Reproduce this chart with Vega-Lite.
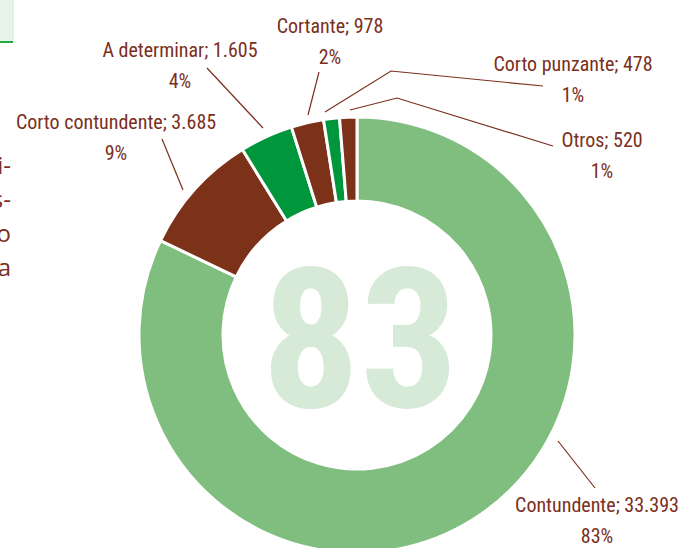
{
  "$schema": "https://vega.github.io/schema/vega-lite/v6.json",
  "width": 687,
  "height": 548,
  "autosize": {"type": "none"},
  "padding": 0,
  "background": "white",
  "config": {"view": {"stroke": null}},
  "datasets": {
    "slices": [
      {"cat": "Contundente", "value": 33393, "idx": 1},
      {"cat": "Corto contundente", "value": 3685, "idx": 2},
      {"cat": "A determinar", "value": 1605, "idx": 3},
      {"cat": "Cortante", "value": 978, "idx": 4},
      {"cat": "Corto punzante", "value": 478, "idx": 5},
      {"cat": "Otros", "value": 520, "idx": 6}
    ],
    "labels": [
      {"cat": "Contundente", "t1": "Contundente; 33.393", "t2": "83%", "x": 240, "y": -177},
      {"cat": "Corto contundente", "t1": "Corto contundente; 3.685", "t2": "9%", "x": -241, "y": 206},
      {"cat": "A determinar", "t1": "A determinar; 1.605", "t2": "4%", "x": -177, "y": 278},
      {"cat": "Cortante", "t1": "Cortante; 978", "t2": "2%", "x": -27, "y": 302},
      {"cat": "Corto punzante", "t1": "Corto punzante; 478", "t2": "1%", "x": 216, "y": 264},
      {"cat": "Otros", "t1": "Otros; 520", "t2": "1%", "x": 245, "y": 188}
    ],
    "leaders": [
      {"id": "A determinar", "seq": 1, "x": -150, "y": 267},
      {"id": "A determinar", "seq": 2, "x": -94, "y": 207},
      {"id": "Corto contundente", "seq": 1, "x": -195, "y": 196},
      {"id": "Corto contundente", "seq": 2, "x": -174, "y": 145},
      {"id": "Cortante", "seq": 1, "x": -38, "y": 263},
      {"id": "Cortante", "seq": 2, "x": -49, "y": 220},
      {"id": "Corto punzante", "seq": 1, "x": 186, "y": 249},
      {"id": "Corto punzante", "seq": 2, "x": 34, "y": 264},
      {"id": "Corto punzante", "seq": 3, "x": -32, "y": 223},
      {"id": "Otros", "seq": 1, "x": 196, "y": 189},
      {"id": "Otros", "seq": 2, "x": 40, "y": 237},
      {"id": "Otros", "seq": 3, "x": -7, "y": 225},
      {"id": "Contundente", "seq": 1, "x": 201, "y": -106},
      {"id": "Contundente", "seq": 2, "x": 238, "y": -153}
    ],
    "fragments": [
      {"t": "i-", "x": -346, "y": 161},
      {"t": "s-", "x": -346, "y": 127},
      {"t": "o", "x": -346, "y": 93},
      {"t": "a", "x": -346, "y": 59}
    ],
    "box": [
      {"x1": -360, "x2": -344, "y1": 336, "y2": 293}
    ],
    "center": [
      {"t": "83", "x": 3, "y": -72}
    ]
  },
  "layer": [
    {
      "data": {"name": "box"},
      "mark": {"type": "rect", "fill": "#e6f3e9", "stroke": "#cfe6d4", "strokeWidth": 1},
      "encoding": {
        "x": {"field": "x1", "type": "quantitative", "scale": {"domain": [-357, 330], "nice": false, "zero": false}, "axis": null},
        "x2": {"field": "x2"},
        "y": {"field": "y1", "type": "quantitative", "scale": {"domain": [-213, 335], "nice": false, "zero": false}, "axis": null},
        "y2": {"field": "y2"}
      }
    },
    {
      "data": {"name": "box"},
      "mark": {"type": "rule", "color": "#22a845", "strokeWidth": 2},
      "encoding": {
        "x": {"field": "x1", "type": "quantitative"},
        "x2": {"field": "x2"},
        "y": {"field": "y2", "type": "quantitative"}
      }
    },
    {
      "data": {"name": "slices"},
      "mark": {"type": "arc", "outerRadius": 218, "innerRadius": 134, "stroke": "white", "strokeWidth": 3},
      "encoding": {
        "theta": {"field": "value", "type": "quantitative", "stack": true},
        "order": {"field": "idx", "type": "quantitative"},
        "color": {
          "field": "cat",
          "type": "nominal",
          "scale": {
            "domain": ["Contundente", "Corto contundente", "A determinar", "Cortante", "Corto punzante", "Otros"],
            "range": ["#80be80", "#7c3119", "#00963c", "#7c3119", "#00963c", "#7c3119"]
          },
          "legend": null
        },
        "x": {"datum": 0, "type": "quantitative"},
        "y": {"datum": 0, "type": "quantitative"}
      }
    },
    {
      "data": {"name": "center"},
      "mark": {"type": "text", "font": "Roboto Condensed, DejaVu Sans Condensed, sans-serif", "fontWeight": "bold", "fontSize": 195, "color": "#d7e9d7", "align": "center", "baseline": "alphabetic"},
      "encoding": {
        "x": {"field": "x", "type": "quantitative"},
        "y": {"field": "y", "type": "quantitative"},
        "text": {"field": "t"}
      }
    },
    {
      "data": {"name": "leaders"},
      "mark": {"type": "line", "color": "#7b2f1c", "strokeWidth": 1.2},
      "encoding": {
        "x": {"field": "x", "type": "quantitative"},
        "y": {"field": "y", "type": "quantitative"},
        "detail": {"field": "id"},
        "order": {"field": "seq", "type": "quantitative"}
      }
    },
    {
      "data": {"name": "labels"},
      "mark": {"type": "text", "font": "Roboto Condensed, DejaVu Sans Condensed, sans-serif", "fontSize": 20, "color": "#7b2f1c", "align": "center", "baseline": "alphabetic"},
      "encoding": {
        "x": {"field": "x", "type": "quantitative"},
        "y": {"field": "y", "type": "quantitative"},
        "text": {"field": "t1"}
      }
    },
    {
      "data": {"name": "labels"},
      "mark": {"type": "text", "font": "Roboto Condensed, DejaVu Sans Condensed, sans-serif", "fontSize": 20, "color": "#7b2f1c", "align": "center", "baseline": "alphabetic", "dy": 31},
      "encoding": {
        "x": {"field": "x", "type": "quantitative"},
        "y": {"field": "y", "type": "quantitative"},
        "text": {"field": "t2"}
      }
    },
    {
      "data": {"name": "fragments"},
      "mark": {"type": "text", "font": "Open Sans, sans-serif", "fontSize": 24, "color": "#7b2f1c", "align": "right", "baseline": "alphabetic"},
      "encoding": {
        "x": {"field": "x", "type": "quantitative"},
        "y": {"field": "y", "type": "quantitative"},
        "text": {"field": "t"}
      }
    }
  ]
}
